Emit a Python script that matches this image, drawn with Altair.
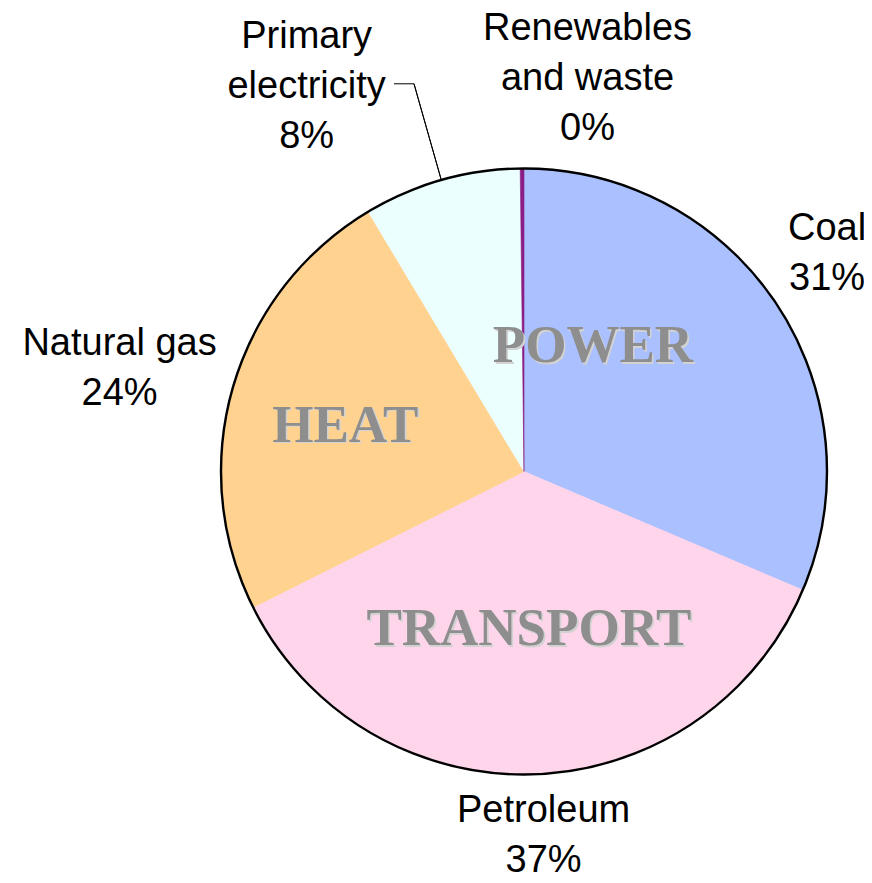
import math
import altair as alt
import pandas as pd

# ---- data ----
fuels = ["Coal", "Petroleum", "Natural gas", "Primary electricity", "Renewables and waste"]
label_names = ["Coal", "Petroleum", "Natural gas", "Primary\nelectricity", "Renewables\nand waste"]
shares = [31.4, 36.2, 23.8, 8.4, 0.2]
share_labels = ["31%", "37%", "24%", "8%", "0%"]
colors = ["#AAC0FF", "#FFD5EB", "#FFD38F", "#EBFFFF", "#8A1E86"]
sectors = ["POWER", "TRANSPORT", "HEAT"]
sector_fuels = ["Coal", "Petroleum", "Natural gas"]

df = pd.DataFrame({"fuel": fuels, "share": shares})
df["idx"] = list(range(len(fuels)))
df["mid"] = df["share"].cumsum() - df["share"] / 2
df["label"] = [f"{n}\n{p}" for n, p in zip(label_names, share_labels)]
total = float(df["share"].sum())

sec_df = pd.DataFrame({"sector": sectors, "fuel": sector_fuels}).merge(df[["fuel", "mid"]], on="fuel")

# ---- layout (styles / positions, not data) ----
W, H = 680, 807
R = 303
LEADER_R = 403
label_pos = {
    "Coal": (373, -8, -37),
    "Petroleum": (370, 8, -30),
    "Natural gas": (417, -4, -11),
    "Primary electricity": (441, -97, -10),
    "Renewables and waste": (398, 66, -45),
}
sector_pos = {
    "POWER": (145, -52, -45.5),
    "HEAT": (185, -1, 6),
    "TRANSPORT": (156, 0, 2),
}

theta_scale = alt.Scale(domain=[0, total])
color_scale = alt.Scale(domain=fuels, range=colors)

base = alt.Chart(df)

slices = base.mark_arc(outerRadius=R, strokeWidth=0.6).encode(
    theta=alt.Theta("share:Q", stack=True, scale=theta_scale),
    color=alt.Color("fuel:N", scale=color_scale, legend=None),
    stroke=alt.Stroke("fuel:N", scale=color_scale, legend=None),
    order=alt.Order("idx:Q"),
)

outline = base.transform_aggregate(total="sum(share)").mark_arc(
    outerRadius=R, fill="white", fillOpacity=0, stroke="black", strokeWidth=2.4
).encode(theta=alt.Theta("total:Q", scale=theta_scale))

prim = base.transform_filter(alt.datum.fuel == "Primary electricity")
leader = prim.mark_arc(
    innerRadius=R + 1, outerRadius=LEADER_R, fill="white", fillOpacity=0,
    stroke="black", strokeWidth=1
).encode(
    theta=alt.Theta("mid:Q", stack=False, scale=theta_scale),
    theta2=alt.Theta2("mid:Q"),
)

prim_mid = float(df.loc[df.fuel == "Primary electricity", "mid"].iloc[0])
ang = prim_mid / total * 2 * math.pi
ex = W / 2 + LEADER_R * math.sin(ang)
ey = H / 2 - LEADER_R * math.cos(ang)
hook = prim.mark_rule(stroke="black", strokeWidth=1).encode(
    x=alt.value(ex - 20), x2=alt.value(ex), y=alt.value(ey)
)

layers = [slices, outline, leader, hook]

for f in fuels:
    r, dx, dy = label_pos[f]
    layers.append(
        base.transform_filter(alt.datum.fuel == f).mark_text(
            radius=r, dx=dx, dy=dy, font="Liberation Sans", fontSize=38,
            lineHeight=50, lineBreak="\n", align="center", baseline="middle",
            color="black",
        ).encode(
            theta=alt.Theta("mid:Q", stack=False, scale=theta_scale),
            text="label:N",
        )
    )

sec_base = alt.Chart(sec_df)
for s in sectors:
    r, dx, dy = sector_pos[s]
    for off, col in [(1.6, "#d2d2d2"), (0, "#8e8e8e")]:
        layers.append(
            sec_base.transform_filter(alt.datum.sector == s).mark_text(
                radius=r, dx=dx + off, dy=dy + off, font="Liberation Serif",
                fontSize=53, fontWeight="bold", align="center", baseline="middle",
                color=col,
            ).encode(
                theta=alt.Theta("mid:Q", stack=False, scale=theta_scale),
                text="sector:N",
            )
        )

chart = alt.layer(*layers).properties(
    width=W,
    height=H,
    padding={"left": 176, "top": 60, "right": 0, "bottom": 0},
    autosize=alt.AutoSizeParams(type="none"),
).configure_view(stroke=None)

chart.save("out.html", embed_options={"renderer": "svg", "actions": False})
